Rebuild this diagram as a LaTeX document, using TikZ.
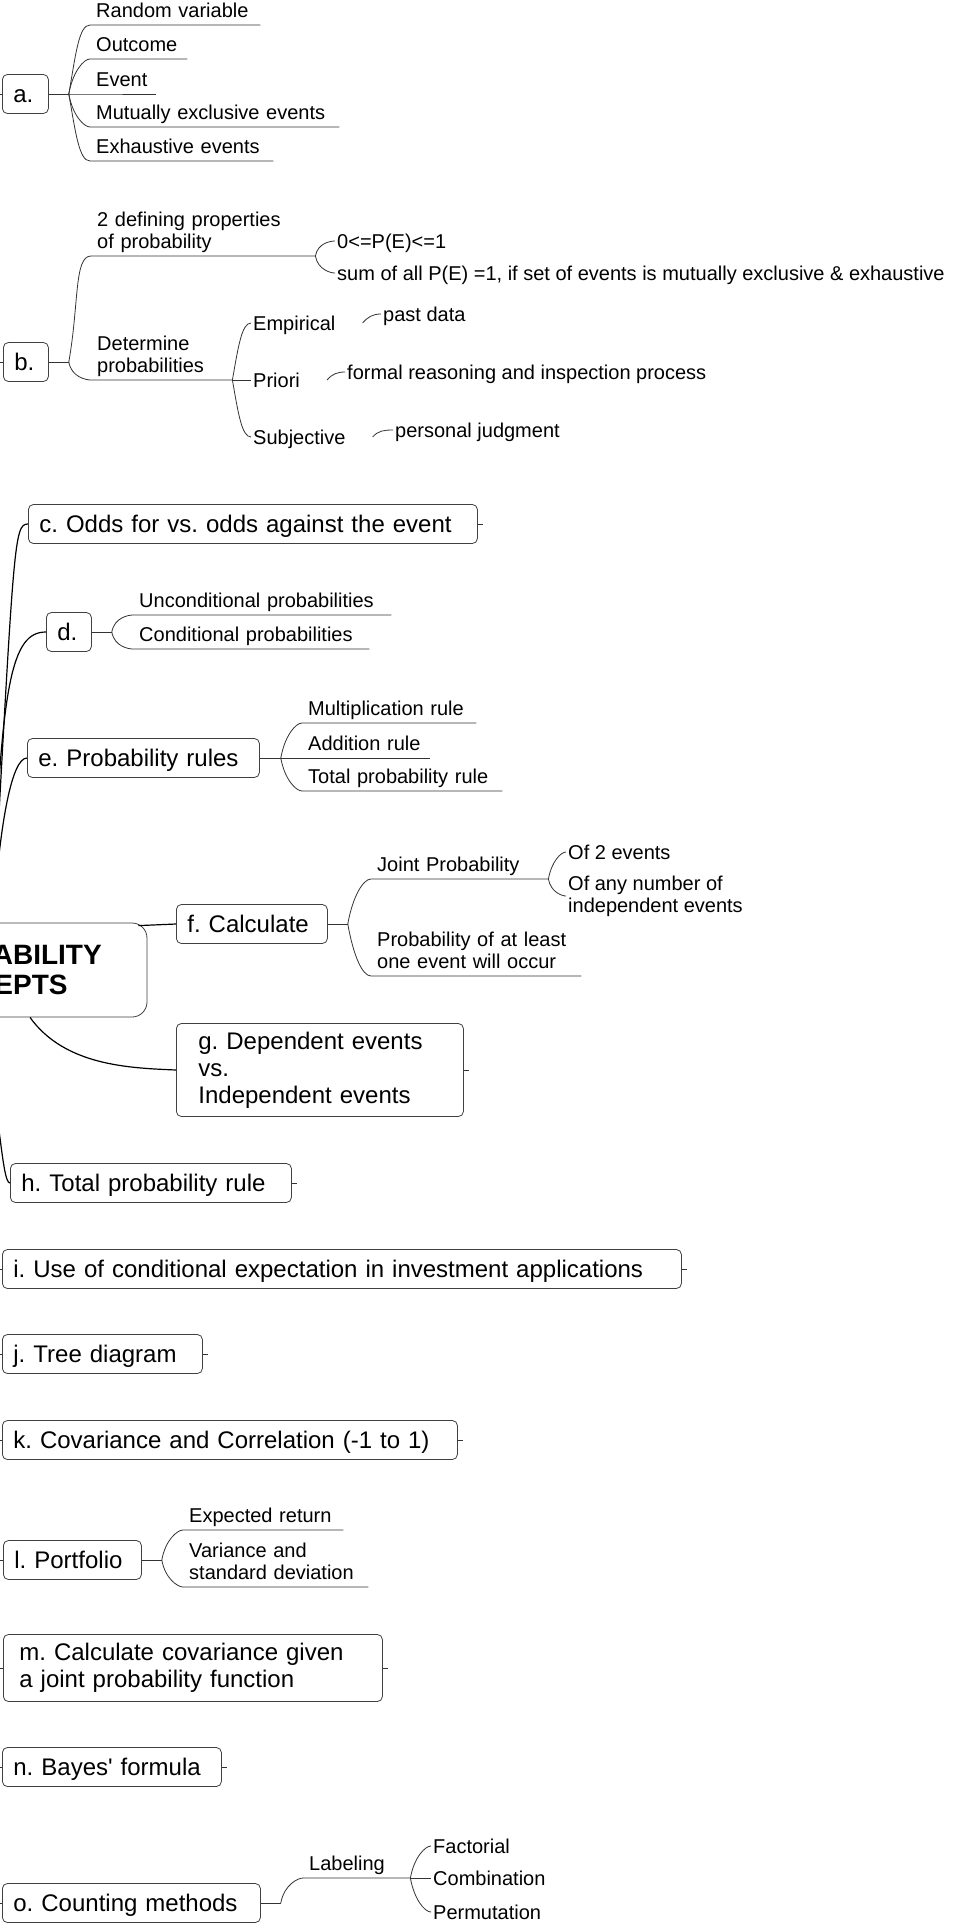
\documentclass[tikz,border=0pt]{standalone}
\usepackage{fontspec}
\setmainfont{Liberation Sans}[Ligatures=TeXOff]
\usepackage{tikz}
\frenchspacing

\newcommand{\rootsize}{\bfseries\fontsize{28}{30}\selectfont}
\newcommand{\topicsize}{\fontsize{24}{27}\selectfont}
\newcommand{\subsize}{\fontsize{20}{22}\selectfont}

\tikzset{
  topic/.style={draw=black!75, line width=0.8pt, rounded corners=5pt, font=\topicsize, anchor=west, align=left, inner xsep=11pt, inner ysep=0pt, minimum height=39pt, text height=17pt, text depth=0pt},
  rootbox/.style={draw=black!75, line width=0.8pt, rounded corners=15pt, font=\rootsize, align=left, inner xsep=43pt, minimum height=94pt},
  sub/.style={font=\subsize, anchor=south west, align=left, inner xsep=6pt, inner ysep=0.5pt, execute at end node=\strut},
  leaf/.style={font=\subsize, anchor=west, align=left, inner xsep=2pt, inner ysep=0pt, text height=14pt, text depth=0pt},
  link/.style={draw=black!80, line width=0.8pt},
  rootlink/.style={draw=black, line width=1.2pt},
  fup/.style={out=80, in=180, out looseness=1.4, in looseness=0.4},
  fdown/.style={out=-80, in=180, out looseness=1.4, in looseness=0.4},
  hook/.style={out=50, in=180}
}

\begin{document}
\begin{tikzpicture}[x=1pt, y=-1pt]
  \useasboundingbox (0,0) rectangle (963,1923);
  \fill[white] (0,0) rectangle (963,1923);
  \clip (0,0) rectangle (963,1923);

  \node (root) [rootbox, text width=192pt] at (8,970) {PROBABILITY\\CONCEPTS};

  \node (a) [topic, text width=24pt] at (2,94) {a.};
  \node (b) [topic, text width=23pt] at (3,362) {b.};
  \node (c) [topic, text width=427pt] at (28,524) {c. Odds for vs. odds against the event};
  \node (d) [topic, text width=23pt] at (46,632) {d.};
  \node (e) [topic, text width=210pt] at (27,758) {e. Probability rules};
  \node (f) [topic, text width=129pt] at (176,924) {f. Calculate};
  \node (g) [topic, text width=243pt, inner xsep=22pt, minimum height=93pt, text height=, text depth=] at (176,1070) {g. Dependent events\\vs.\\Independent events};
  \node (h) [topic, text width=259pt] at (10,1183) {h. Total probability rule};
  \node (i) [topic, text width=657pt] at (2,1269) {i. Use of conditional expectation in investment applications};
  \node (j) [topic, text width=178pt] at (2,1354) {j. Tree diagram};
  \node (k) [topic, text width=433pt] at (2,1440) {k. Covariance and Correlation (-1 to 1)};
  \node (l) [topic, text width=116pt] at (3,1560) {l. Portfolio};
  \node (m) [topic, text width=347pt, inner xsep=16pt, minimum height=67pt, text height=, text depth=] at (3,1668) {m. Calculate covariance given\\a joint probability function};
  \node (n) [topic, text width=197pt] at (2,1767) {n. Bayes' formula};
  \node (o) [topic, text width=236pt] at (2,1903) {o. Counting methods};

  \coordinate (afork) at ([xshift=20pt]a.east);
  \node (rv) [sub, text width=158pt] at (90,25) {Random variable};
  \node (oc) [sub, text width=85pt] at (90,59) {Outcome};
  \node (ev) [sub, text width=54pt] at (90,94) {Event};
  \node (me) [sub, text width=237pt] at (90,127) {Mutually exclusive events};
  \node (ee) [sub, text width=171pt] at (90,161) {Exhaustive events};

  \coordinate (bfork) at ([xshift=20pt]b.east);
  \node (props) [sub, text width=212pt] at (91,256) {2 defining properties\\of probability};
  \node (det) [sub, text width=129pt] at (91,380) {Determine\\probabilities};
  \node (pe1) [leaf] at (335,241) {0<=P(E)<=1};
  \node (pe2) [leaf] at (335,273) {sum of all P(E) =1, if set of events is mutually exclusive \& exhaustive};
  \node (emp) [leaf] at (251,323) {Empirical};
  \node (pri) [leaf] at (251,380) {Priori};
  \node (subj) [leaf] at (251,437) {Subjective};
  \node (past) [leaf] at (381,314) {past data};
  \node (formal) [leaf] at (345,372) {formal reasoning and inspection process};
  \node (pers) [leaf] at (393,430) {personal judgment};

  \coordinate (dfork) at ([xshift=20pt]d.east);
  \node (uncond) [sub, text width=246pt] at (133,615) {Unconditional probabilities};
  \node (cond) [sub, text width=224pt] at (133,649) {Conditional probabilities};

  \coordinate (efork) at ([xshift=21pt]e.east);
  \node (mult) [sub, text width=162pt] at (302,723) {Multiplication rule};
  \node (add) [sub, text width=116pt] at (302,758) {Addition rule};
  \node (tot) [sub, text width=188pt] at (302,791) {Total probability rule};

  \coordinate (ffork) at ([xshift=20pt]f.east);
  \node (joint) [sub, text width=165pt] at (371,879) {Joint Probability};
  \node (least) [sub, text width=198pt] at (371,976) {Probability of at least\\one event will occur};
  \node (two) [leaf] at (566,852) {Of 2 events};
  \node (any) [leaf, text height=, text depth=] at (566,896) {Of any number of\\independent events};

  \coordinate (lfork) at ([xshift=20pt]l.east);
  \node (ret) [sub, text width=148pt] at (183,1530) {Expected return};
  \node (var) [sub, text width=173pt] at (183,1587) {Variance and\\standard deviation};

  \coordinate (ofork) at ([xshift=20pt]o.east);
  \node (lab) [sub, text width=95pt] at (303,1878) {Labeling};
  \node (fact) [leaf] at (431,1846) {Factorial};
  \node (comb) [leaf] at (431,1878) {Combination};
  \node (perm) [leaf] at (431,1912) {Permutation};

  \draw[rootlink] ([xshift=-15pt]root.north) .. controls (14,540) and (14,524) .. (c.west);
  \draw[rootlink] ([xshift=-15pt]root.north) .. controls (0,680) and (12,632) .. (d.west);
  \draw[rootlink] ([xshift=-15pt]root.north) .. controls (0,820) and (12,758) .. (e.west);
  \draw[rootlink] ([xshift=-9pt,yshift=-3pt]root.north east) -- (f.west);
  \draw[rootlink] ([xshift=22pt]root.south) .. controls (65,1066) and (130,1068) .. (g.west);
  \draw[rootlink] ([xshift=-30pt]root.south) .. controls (0,1095) and (1,1183) .. (h.west);

  \draw[link] (a) -- (afork);
  \draw[link] (afork) to[fup] (rv.south west) -- (rv.south east);
  \draw[link] (afork) to[fup] (oc.south west) -- (oc.south east);
  \draw[link] (afork) -- (ev.south west) -- (ev.south east);
  \draw[link] (afork) to[fdown] (me.south west) -- (me.south east);
  \draw[link] (afork) to[fdown] (ee.south west) -- (ee.south east);

  \draw[link] (b) -- (bfork);
  \draw[link] (bfork) to[fup] (props.south west) -- (props.south east);
  \draw[link] (bfork) to[fdown] (det.south west) -- (det.south east);
  \draw[link] (props.south east) to[fup] (pe1.west);
  \draw[link] (props.south east) to[fdown] (pe2.west);
  \draw[link] (det.south east) to[fup] (emp.west);
  \draw[link] (det.south east) -- (pri.west);
  \draw[link] (det.south east) to[fdown] (subj.west);
  \draw[link] ([xshift=25pt]emp.east) to[hook] (past.west);
  \draw[link] ([xshift=25pt]pri.east) to[hook] (formal.west);
  \draw[link] ([xshift=25pt]subj.east) to[hook] (pers.west);

  \draw[link] (d) -- (dfork);
  \draw[link] (dfork) to[fup] (uncond.south west) -- (uncond.south east);
  \draw[link] (dfork) to[fdown] (cond.south west) -- (cond.south east);

  \draw[link] (e) -- (efork);
  \draw[link] (efork) to[fup] (mult.south west) -- (mult.south east);
  \draw[link] (efork) -- (add.south west) -- (add.south east);
  \draw[link] (efork) to[fdown] (tot.south west) -- (tot.south east);

  \draw[link] (f) -- (ffork);
  \draw[link] (ffork) to[fup] (joint.south west) -- (joint.south east);
  \draw[link] (ffork) to[fdown] (least.south west) -- (least.south east);
  \draw[link] (joint.south east) to[fup] (two.west);
  \draw[link] (joint.south east) to[fdown] (any.west);

  \draw[link] (l) -- (lfork);
  \draw[link] (lfork) to[fup] (ret.south west) -- (ret.south east);
  \draw[link] (lfork) to[fdown] (var.south west) -- (var.south east);

  \draw[link] (o) -- (ofork);
  \draw[link] (ofork) to[fup] (lab.south west) -- (lab.south east);
  \draw[link] (lab.south east) to[fup] (fact.west);
  \draw[link] (lab.south east) -- (comb.west);
  \draw[link] (lab.south east) to[fdown] (perm.west);

  \foreach \nd in {a,b,i,j,k,l,m,n,o}
    \draw[link] (\nd.west) -- ([xshift=-8pt]\nd.west);
  \foreach \nd in {c,g,h,i,j,k,m,n}
    \draw[link] (\nd.east) -- ([xshift=5pt]\nd.east);
\end{tikzpicture}
\end{document}
